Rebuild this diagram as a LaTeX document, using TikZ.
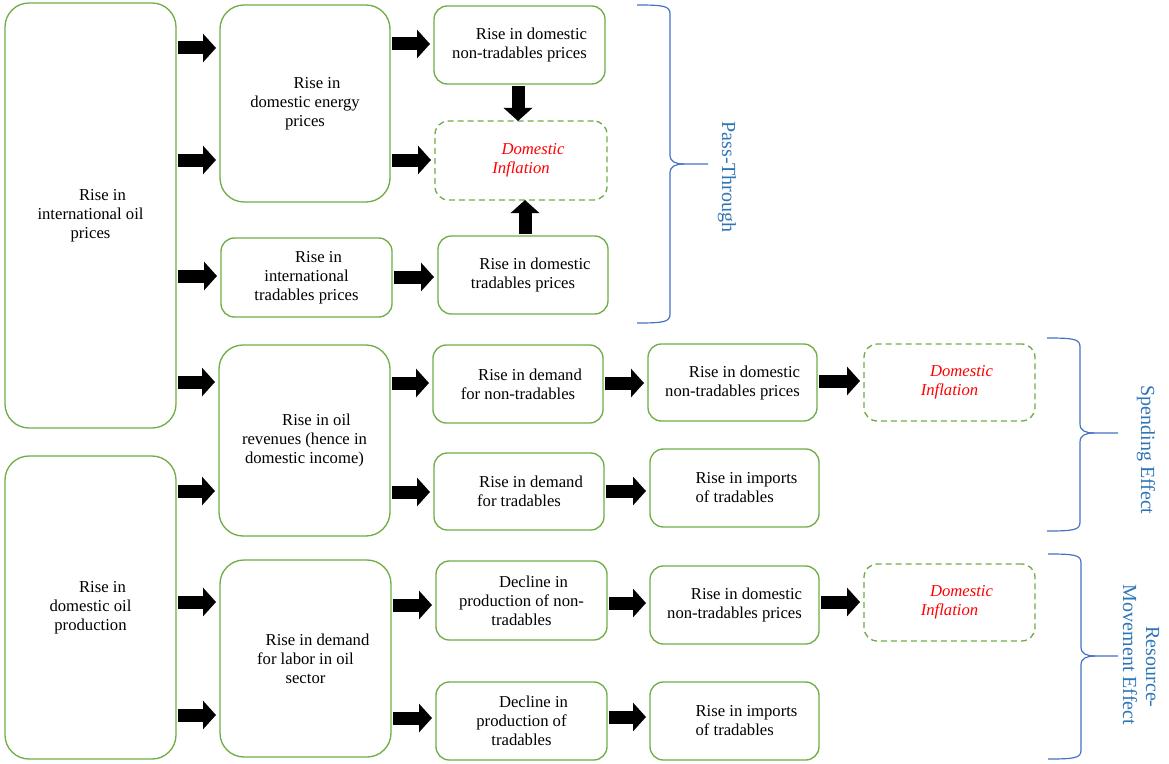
\documentclass[tikz,border=0pt]{standalone}
\usepackage{fontspec}
\setmainfont{Liberation Serif}
\usetikzlibrary{arrows.meta}
\definecolor{bgreen}{HTML}{70AD47}
\definecolor{bblue}{HTML}{4472C4}
\definecolor{tblue}{HTML}{2E75B6}
\newcommand\bx[7]{\node[#6, minimum width={(#4-#2)*0.75pt}, minimum height={(#5-#3)*0.75pt}] (#1) at ({(#2+#4)/2},{(#3+#5)/2}) {#7};}
\newcommand\mybrace[6]{% xl, xv, yt, ym, yb, xt
\draw[bracestyle] (#1,#3) .. controls ({#2-6},#3) and (#2,{#3+1}) .. (#2,{#3+9}) -- (#2,{#4-9}) .. controls (#2,{#4-2}) and ({#2+6},#4) .. ({#2+14},#4) -- (#6,#4);
\draw[bracestyle] ({#2+14},#4) .. controls ({#2+6},#4) and (#2,{#4+2}) .. (#2,{#4+9}) -- (#2,{#5-9}) .. controls (#2,{#5-1}) and ({#2-6},#5) .. (#1,#5);}
\newcommand\ind{\hspace*{18pt}}
\begin{document}
\begin{tikzpicture}[x=0.75pt,y=-0.75pt,
  every node/.style={font=\fontsize{12.5}{14.25}\selectfont, inner sep=0pt, outer sep=0pt},
  bigbox/.style={draw=bgreen, line width=1pt, rounded corners=18pt, align=center},
  smallbox/.style={draw=bgreen, line width=1pt, rounded corners=10pt, align=center},
  leftbox/.style={smallbox, align=left},
  dashbox/.style={draw=bgreen, line width=1pt, rounded corners=10pt, dash pattern=on 4.5pt off 3pt, align=center, text=red, font=\fontsize{12.5}{14.25}\selectfont\itshape},
  barrow/.style={black, line width=9.75pt, -{Triangle[length=9.75pt,width=21pt]}, shorten <=1.5pt, shorten >=3pt},
  bracestyle/.style={draw=bblue, line width=0.9pt},
  bracetext/.style={text=tblue, font=\fontsize{15}{17.25}\selectfont, rotate=-90, align=center}]
\useasboundingbox (0,0) rectangle (1169,763);
% boxes
\bx{A}{5}{3}{176}{428}{bigbox}{\ind Rise in\\international oil\\prices}
\bx{B}{5}{456}{176}{759}{bigbox}{\ind Rise in\\domestic oil\\production}
\bx{C}{220}{5}{390}{202}{bigbox}{\ind Rise in\\domestic energy\\prices}
\bx{D}{221}{238}{392}{317}{smallbox}{\ind Rise in\\international\\tradables prices}
\bx{E}{219}{345}{390}{536}{bigbox}{\ind Rise in oil\\revenues (hence in\\domestic income)}
\bx{F}{220}{560}{391}{757}{bigbox}{\ind Rise in demand\\for labor in oil\\sector}
\bx{G}{434}{6}{605}{84}{smallbox}{\ind Rise in domestic\\non-tradables prices}
\bx{H}{435}{121}{607}{200}{dashbox}{\ind Domestic\\Inflation}
\bx{I}{438}{236}{608}{314}{smallbox}{\ind Rise in domestic\\tradables prices}
\bx{J}{433}{345}{603}{423}{smallbox}{\ind Rise in demand\\for non-tradables}
\bx{K}{434}{453}{604}{530}{smallbox}{\ind Rise in demand\\for tradables}
\bx{L}{436}{561}{607}{640}{smallbox}{\ind Decline in\\production of non-\\tradables}
\bx{M}{436}{682}{607}{760}{smallbox}{\ind Decline in\\production of\\tradables}
\bx{N}{648}{344}{817}{421}{smallbox}{\ind Rise in domestic\\non-tradables prices}
\bx{O}{650}{449}{819}{527}{leftbox}{\ind Rise in imports\\\ind of tradables}
\bx{P}{650}{566}{819}{644}{smallbox}{\ind Rise in domestic\\non-tradables prices}
\bx{Q}{650}{682}{819}{760}{leftbox}{\ind Rise in imports\\\ind of tradables}
\bx{R}{864}{344}{1035}{421}{dashbox}{\ind Domestic\\Inflation}
\bx{S}{864}{564}{1035}{641}{dashbox}{\ind Domestic\\Inflation}
% arrows column 1
\draw[barrow] (A.east |- 0,48) -- (C.west |- 0,48);
\draw[barrow] (A.east |- 0,160) -- (C.west |- 0,160);
\draw[barrow] (A.east |- 0,276) -- (D.west |- 0,276);
\draw[barrow] (A.east |- 0,382) -- (E.west |- 0,382);
\draw[barrow] (B.east |- 0,491) -- (E.west |- 0,491);
\draw[barrow] (B.east |- 0,602) -- (F.west |- 0,602);
\draw[barrow] (B.east |- 0,715) -- (F.west |- 0,715);
% column 2
\draw[barrow] (C.east |- 0,44) -- (G.west |- 0,44);
\draw[barrow] (C.east |- 0,160) -- (H.west |- 0,160);
\draw[barrow] (D.east |- 0,277) -- (I.west |- 0,277);
\draw[barrow] (E.east |- 0,383) -- (J.west |- 0,383);
\draw[barrow] (E.east |- 0,492) -- (K.west |- 0,492);
\draw[barrow] (F.east |- 0,605) -- (L.west |- 0,605);
\draw[barrow] (F.east |- 0,718) -- (M.west |- 0,718);
% column 3
\draw[barrow] (J.east |- 0,383) -- (N.west |- 0,383);
\draw[barrow] (K.east |- 0,491) -- (O.west |- 0,491);
\draw[barrow] (L.east |- 0,603) -- (P.west |- 0,603);
\draw[barrow] (M.east |- 0,717) -- (Q.west |- 0,717);
% column 4
\draw[barrow] (N.east |- 0,381) -- (R.west |- 0,381);
\draw[barrow] (P.east |- 0,602) -- (S.west |- 0,602);
% vertical
\draw[barrow, shorten >=0pt] (G.south -| 518,0) -- (H.north -| 518,0);
\draw[barrow, shorten >=0pt] (I.north -| 525,0) -- (H.south -| 525,0);
% braces
\mybrace{637}{670}{5}{164}{323}{708}
\mybrace{1047}{1080}{338}{433}{531}{1118}
\mybrace{1048}{1081}{554}{656}{759}{1118}
\node[bracetext] (PT) at (727,177) {Pass-Through};
\node[bracetext] (SE) at (1146,450) {Spending Effect};
\node[bracetext, font=\fontsize{15}{17.25}\selectfont] (RM) at (1141,655) {\ind Resource-\\Movement Effect};
\end{tikzpicture}
\end{document}
